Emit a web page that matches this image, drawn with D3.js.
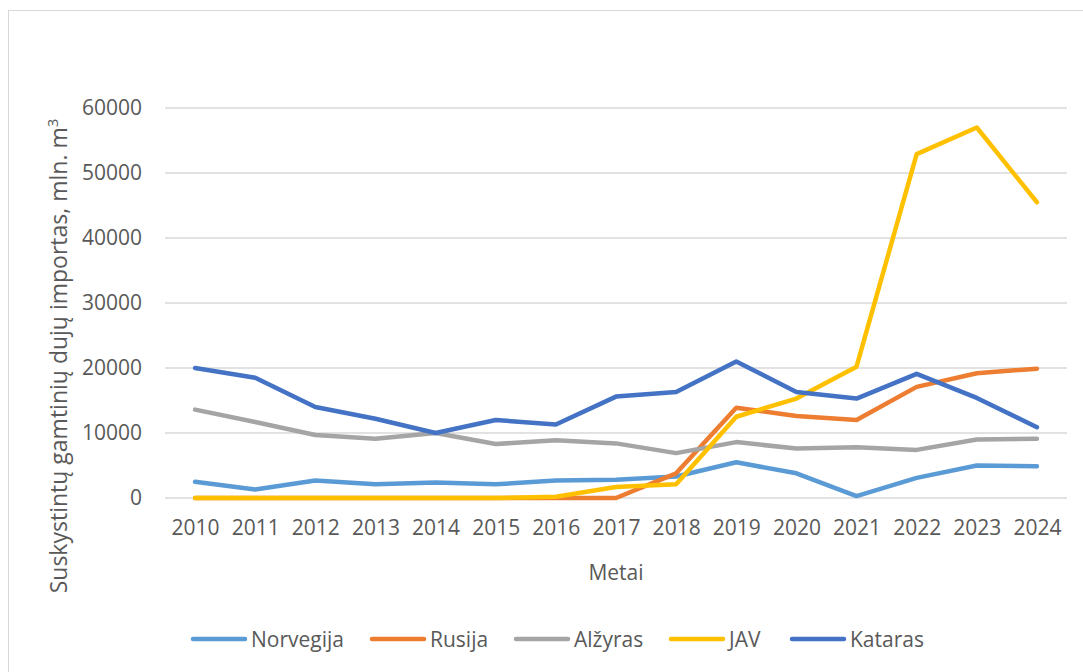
<!DOCTYPE html>
<html>
<head>
<meta charset="utf-8">
<script src="https://cdn.jsdelivr.net/npm/d3@7"></script>
<style>
  body { margin: 0; background: #fff; }
  text { font-family: "Open Sans", sans-serif; fill: #595959; }
</style>
</head>
<body>
<svg id="chart" width="1083" height="672"></svg>
<script>
// Data
const years = ["2010","2011","2012","2013","2014","2015","2016","2017","2018","2019","2020","2021","2022","2023","2024"];
const norvegija = [2500, 1300, 2700, 2100, 2400, 2100, 2700, 2800, 3300, 5500, 3800, 300, 3100, 5000, 4900];
const rusija    = [0, 0, 0, 0, 0, 0, 0, 0, 3800, 13900, 12600, 12000, 17100, 19200, 19900];
const alzyras   = [13600, 11700, 9700, 9100, 10000, 8300, 8900, 8400, 6900, 8600, 7600, 7800, 7400, 9000, 9100];
const jav       = [0, 0, 0, 0, 0, 0, 200, 1700, 2100, 12500, 15300, 20200, 52900, 57000, 45500];
const kataras   = [20000, 18500, 14000, 12200, 10000, 12000, 11300, 15600, 16300, 21000, 16300, 15300, 19100, 15400, 10900];
const yTicks = [0, 10000, 20000, 30000, 40000, 50000, 60000];

const series = [
    {name: "Norvegija", values: norvegija, color: "#5B9BD5"},
    {name: "Rusija", values: rusija, color: "#ED7D31"},
    {name: "Alžyras", values: alzyras, color: "#A5A5A5"},
    {name: "JAV", values: jav, color: "#FFC000"},
    {name: "Kataras", values: kataras, color: "#4472C4"}
];

const plot = {left: 165, right: 1067, top: 108, bottom: 498};

const svg = d3.select("#chart");

// Chart frame
svg.append("rect")
    .attr("x", 8.5)
    .attr("y", 10.5)
    .attr("width", 1100)
    .attr("height", 700)
    .attr("fill", "none")
    .attr("stroke", "#d9d9d9")
    .attr("stroke-width", 1);

const xScale = d3.scalePoint()
    .domain(years)
    .range([plot.left, plot.right])
    .padding(0.5);

const yScale = d3.scaleLinear()
    .domain([0, 60000])
    .range([plot.bottom, plot.top]);

// Gridlines
svg.append("g")
    .selectAll("line")
    .data(yTicks)
    .enter()
    .append("line")
    .attr("x1", plot.left)
    .attr("x2", plot.right)
    .attr("y1", d => yScale(d))
    .attr("y2", d => yScale(d))
    .attr("stroke", "#d9d9d9")
    .attr("stroke-width", 1.5);

// Y axis
const yAxis = svg.append("g")
    .attr("transform", `translate(${plot.left},0)`)
    .call(d3.axisLeft(yScale).tickValues(yTicks).tickSize(0).tickPadding(23).tickFormat(d3.format("d")));
yAxis.select(".domain").remove();
yAxis.selectAll("text")
    .style("font-size", "21px")
    .attr("fill", "#595959");

// X axis
const xAxis = svg.append("g")
    .attr("transform", `translate(0,${plot.bottom})`)
    .call(d3.axisBottom(xScale).tickSize(0).tickPadding(22));
xAxis.select(".domain").remove();
xAxis.selectAll("text")
    .style("font-size", "21px")
    .attr("fill", "#595959");

// Axis titles
const yTitle = svg.append("text")
    .attr("transform", "translate(67,356) rotate(-90)")
    .attr("text-anchor", "middle")
    .style("font-size", "23px")
    .text("Suskystintų gamtinių dujų importas, mln. m");
yTitle.append("tspan")
    .attr("dy", "-9")
    .style("font-size", "15px")
    .text("3");

svg.append("text")
    .attr("x", (plot.left + plot.right) / 2)
    .attr("y", 580)
    .attr("text-anchor", "middle")
    .style("font-size", "21px")
    .text("Metai");

// Lines
const line = d3.line()
    .x((d, i) => xScale(years[i]))
    .y(d => yScale(d));

svg.append("g")
    .selectAll("path")
    .data(series)
    .enter()
    .append("path")
    .attr("d", d => line(d.values))
    .attr("fill", "none")
    .attr("stroke", d => d.color)
    .attr("stroke-width", 4.5)
    .attr("stroke-linecap", "round")
    .attr("stroke-linejoin", "round");

// Legend
const legendX = [191, 370, 514, 669, 790];
const legend = svg.append("g").attr("transform", "translate(0,639)");
series.forEach((s, i) => {
    legend.append("line")
        .attr("x1", legendX[i] + 2)
        .attr("x2", legendX[i] + 54)
        .attr("stroke", s.color)
        .attr("stroke-width", 4.5)
        .attr("stroke-linecap", "round");
    legend.append("text")
        .attr("x", legendX[i] + 60)
        .attr("y", 7.5)
        .style("font-size", "21px")
        .text(s.name);
});
</script>
</body>
</html>
